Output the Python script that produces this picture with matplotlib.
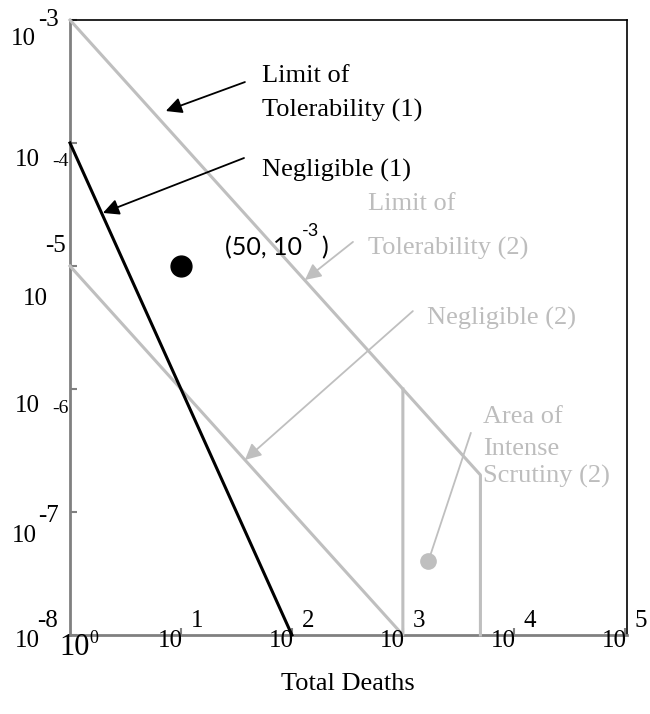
import matplotlib
matplotlib.use("Agg")
import matplotlib.pyplot as plt
from matplotlib import transforms

# ====== DATA ======
# criterion lines: number of deaths N vs frequency F
lot_n = [1, 5000, 5000]          # limit of tolerability + cut-off
lot_f = [1e-3, 2e-7, 1e-8]
neg2_n = [1, 1000, 1000]         # negligible (2) + cut-off
neg2_f = [1e-5, 1e-8, 1e-6]
neg1_n = [1, 100]                # negligible (1)
neg1_f = [1e-4, 1e-8]

black_pt_n, black_pt_f = [10], [1e-5]
gray_pt_n, gray_pt_f = [1700], [4e-8]

x_exps = ["1", "2", "3", "4", "5"]
x_ticks = [10, 100, 1000, 10000, 100000]
y_ticks = [1e-3, 1e-4, 1e-5, 1e-6, 1e-7, 1e-8]

# ====== STYLE ======
W, H = 650, 714
GRAY = "#bfbfbf"
TXT_GRAY = "#bdbdbd"
AXIS_GRAY = "#808080"
SERIF = "Liberation Serif"

fig = plt.figure(figsize=(W / 100, H / 100), dpi=100)
ax = fig.add_axes([70 / W, 1 - 635 / H, 557 / W, 615 / H])
ax.set_xscale("log")
ax.set_yscale("log")
ax.set_xlim(1, 10 ** 5.02)
ax.set_ylim(1e-8, 1e-3)

for side in ["left", "bottom"]:
    ax.spines[side].set_color(AXIS_GRAY)
    ax.spines[side].set_linewidth(2)
for side in ["top", "right"]:
    ax.spines[side].set_color("black")
    ax.spines[side].set_linewidth(1.2)

ax.set_xticks(x_ticks)
ax.set_yticks(y_ticks)
ax.minorticks_off()
ax.tick_params(direction="in", length=5, width=1.5, color=AXIS_GRAY,
               labelleft=False, labelbottom=False)

# ====== LINES & POINTS ======
ax.plot(lot_n, lot_f, color=GRAY, lw=2.2, clip_on=False, zorder=3)
ax.plot(neg2_n, neg2_f, color=GRAY, lw=2.2, clip_on=False, zorder=3)
ax.plot(neg1_n, neg1_f, color="black", lw=2.2, clip_on=False, zorder=4)
ax.plot(black_pt_n, black_pt_f, "o", color="black", ms=15, zorder=5)
ax.plot(gray_pt_n, gray_pt_f, "o", color=GRAY, ms=11, zorder=5)


def ftext(xp, yp, s, size=19, color="black", family=SERIF, ha="left"):
    fig.text(xp / W, 1 - yp / H, s, fontsize=size, color=color,
             family=family, ha=ha, va="baseline")


# ====== ARROWS ======
def arrow(head, tail, color):
    ax.annotate("", xy=head, xytext=tail,
                arrowprops=dict(arrowstyle="-|>", color=color, lw=1.3,
                                mutation_scale=24, shrinkA=0, shrinkB=0))


arrow((7.3, 1.82e-4), (37.7, 3.13e-4), "black")
arrow((1.98, 2.7e-5), (37, 7.55e-5), "black")
arrow((131, 7.7e-6), (355, 1.57e-5), GRAY)
arrow((37.7, 2.65e-7), (1230, 4.3e-6), GRAY)
ax.annotate("", xy=(1700, 4e-8), xytext=(4100, 4.4e-7),
            arrowprops=dict(arrowstyle="-", color=GRAY, lw=1.3,
                            shrinkA=0, shrinkB=0))

# ====== LABELS ======
ftext(262, 82, "Limit of")
ftext(262, 117, "Tolerability (1)")
ftext(262, 177, "Negligible (1)")
ftext(368, 210, "Limit of", color=TXT_GRAY)
ftext(368, 255, "Tolerability (2)", color=TXT_GRAY)
ftext(427, 325, "Negligible (2)", color=TXT_GRAY)
ftext(483, 423, "Area of", color=TXT_GRAY)
ftext(483, 455, "Intense", color=TXT_GRAY)
ftext(483, 483, "Scrutiny (2)", color=TXT_GRAY)

ftext(225, 255, "(50, 10", size=18, family="Lato")
ftext(302, 236, "-3", size=13, family="Lato")
ftext(321, 255, ")", size=18, family="Lato")

# y tick labels (drawn by hand, as in the original)
ftext(11, 45, "10", size=18)
ftext(38, 26, "-3", size=18)
ftext(15, 166, "10", size=18)
ftext(52, 166, "-4", size=14)
ftext(45, 252, "-5", size=18)
ftext(23, 305, "10", size=18)
ftext(15, 412, "10", size=18)
ftext(52, 413, "-6", size=14)
ftext(12, 542, "10", size=18)
ftext(38, 522, "-7", size=18)
ftext(15, 647, "10", size=18)
ftext(37, 627, "-8", size=18)

# x tick labels
ftext(59, 655, "10", size=22)
ftext(89, 643, "0", size=13)
base = transforms.blended_transform_factory(ax.transData, fig.transFigure)
for xt, e in zip(x_ticks, x_exps):
    tr = transforms.offset_copy(base, fig=fig, x=2, y=0, units="dots")
    ax.text(xt, 1 - 647 / H, "10", transform=tr, fontsize=18, family=SERIF,
            ha="right", va="baseline")
    tr2 = transforms.offset_copy(base, fig=fig, x=10, y=0, units="dots")
    ax.text(xt, 1 - 627 / H, e, transform=tr2, fontsize=18, family=SERIF,
            ha="left", va="baseline")

ftext(348, 690, "Total Deaths", ha="center")

fig.savefig("out.png", dpi=100)
